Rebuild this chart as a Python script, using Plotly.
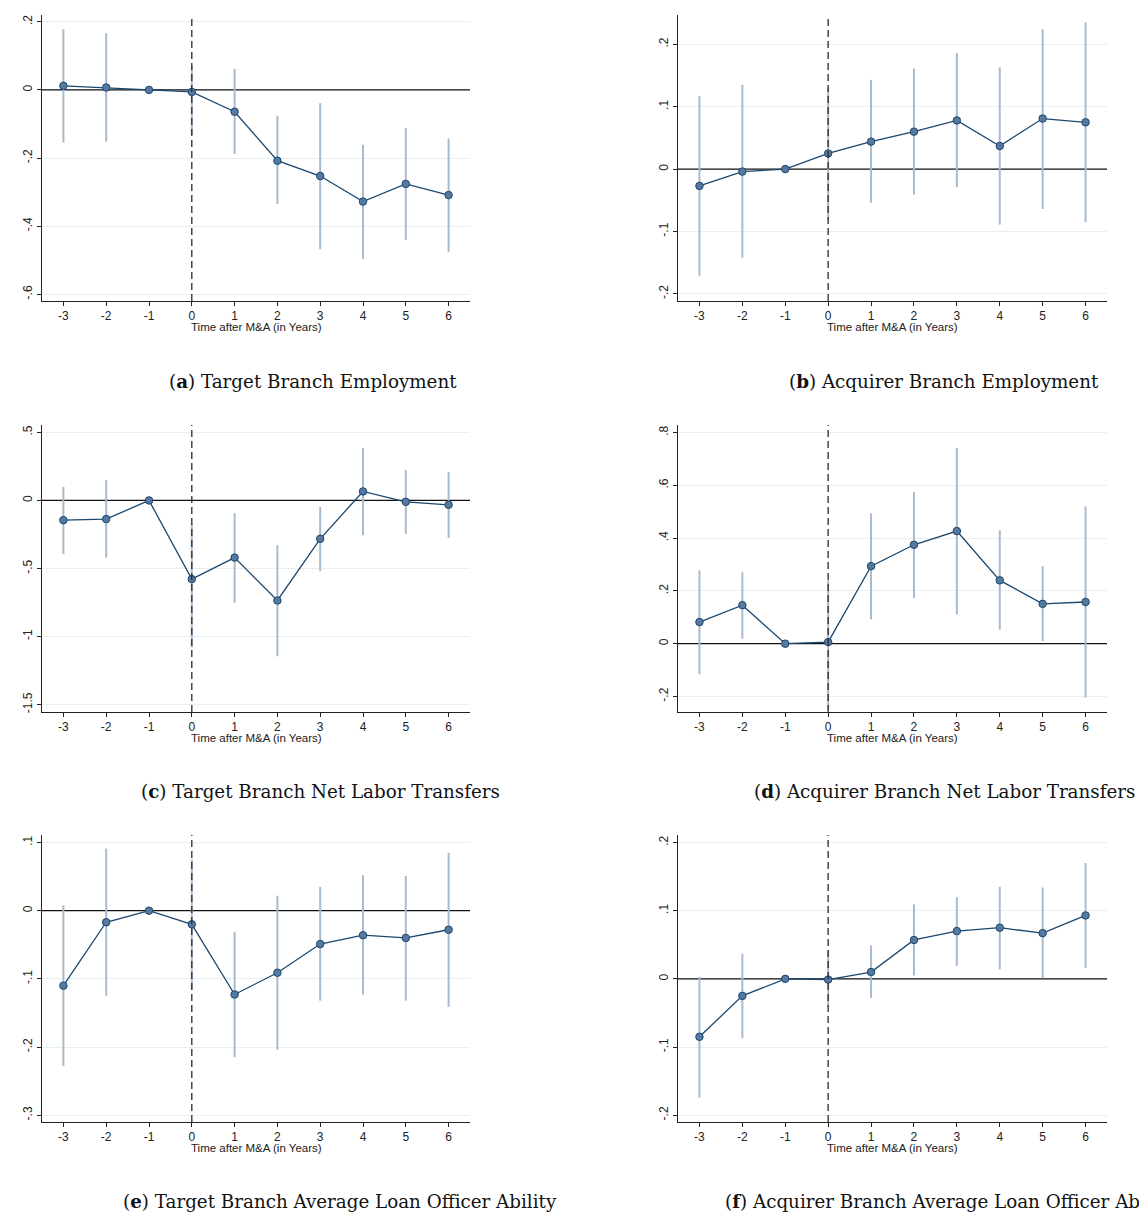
import plotly.graph_objects as go

# The page body adds an 8px margin; the figure is sized/positioned to compensate.
OFF = 8
W, H = 1147 - OFF, 1218 - OFF

years = [-3, -2, -1, 0, 1, 2, 3, 4, 5, 6]
x_ticklabels = [str(v) for v in years]
x_title = "Time after M&A (in Years)"

# (a) Target Branch Employment
a_coef = [0.012, 0.007, 0.0, -0.006, -0.064, -0.208, -0.253, -0.328, -0.276, -0.309]
a_lo = [-0.155, -0.152, None, -0.132, -0.188, -0.335, -0.468, -0.497, -0.441, -0.476]
a_hi = [0.178, 0.167, None, 0.069, 0.062, -0.076, -0.039, -0.161, -0.112, -0.143]
a_yticks = [-0.6, -0.4, -0.2, 0, 0.2]
a_yticklabels = ["-.6", "-.4", "-.2", "0", ".2"]
a_caption = "(<b>a</b>) Target Branch Employment"

# (b) Acquirer Branch Employment
b_coef = [-0.027, -0.004, 0.0, 0.025, 0.044, 0.060, 0.078, 0.037, 0.081, 0.075]
b_lo = [-0.171, -0.142, None, -0.082, -0.054, -0.041, -0.029, -0.089, -0.064, -0.085]
b_hi = [0.117, 0.135, None, 0.129, 0.143, 0.161, 0.186, 0.163, 0.224, 0.235]
b_yticks = [-0.2, -0.1, 0, 0.1, 0.2]
b_yticklabels = ["-.2", "-.1", "0", ".1", ".2"]
b_caption = "(<b>b</b>) Acquirer Branch Employment"

# (c) Target Branch Net Labor Transfers
c_coef = [-0.145, -0.137, 0.0, -0.578, -0.420, -0.735, -0.282, 0.066, -0.010, -0.032]
c_lo = [-0.395, -0.420, None, -1.08, -0.752, -1.145, -0.520, -0.255, -0.245, -0.275]
c_hi = [0.100, 0.150, None, -0.17, -0.093, -0.328, -0.047, 0.385, 0.223, 0.208]
c_yticks = [-1.5, -1, -0.5, 0, 0.5]
c_yticklabels = ["-1.5", "-1", "-.5", "0", ".5"]
c_caption = "(<b>c</b>) Target Branch Net Labor Transfers"

# (d) Acquirer Branch Net Labor Transfers
d_coef = [0.082, 0.146, 0.0, 0.006, 0.294, 0.375, 0.427, 0.240, 0.151, 0.158]
d_lo = [-0.116, 0.019, None, -0.25, 0.092, 0.173, 0.111, 0.053, 0.010, -0.204]
d_hi = [0.278, 0.271, None, 0.24, 0.494, 0.575, 0.742, 0.430, 0.294, 0.520]
d_yticks = [-0.2, 0, 0.2, 0.4, 0.6, 0.8]
d_yticklabels = ["-.2", "0", ".2", ".4", ".6", ".8"]
d_caption = "(<b>d</b>) Acquirer Branch Net Labor Transfers"

# (e) Target Branch Average Loan Officer Ability
e_coef = [-0.110, -0.017, 0.0, -0.020, -0.123, -0.091, -0.049, -0.036, -0.040, -0.028]
e_lo = [-0.228, -0.125, None, -0.115, -0.215, -0.204, -0.132, -0.123, -0.132, -0.141]
e_hi = [0.008, 0.091, None, 0.075, -0.031, 0.022, 0.035, 0.052, 0.051, 0.085]
e_yticks = [-0.3, -0.2, -0.1, 0, 0.1]
e_yticklabels = ["-.3", "-.2", "-.1", "0", ".1"]
e_caption = "(<b>e</b>) Target Branch Average Loan Officer Ability"

# (f) Acquirer Branch Average Loan Officer Ability
f_coef = [-0.085, -0.025, 0.0, -0.001, 0.010, 0.057, 0.070, 0.075, 0.067, 0.093]
f_lo = [-0.174, -0.087, None, -0.041, -0.028, 0.005, 0.019, 0.014, 0.001, 0.016]
f_hi = [0.003, 0.037, None, 0.042, 0.049, 0.109, 0.120, 0.135, 0.134, 0.170]
f_yticks = [-0.2, -0.1, 0, 0.1, 0.2]
f_yticklabels = ["-.2", "-.1", "0", ".1", ".2"]
f_caption = "(<b>f</b>) Acquirer Branch Average Loan Officer Ability"

panels = [
    dict(coef=a_coef, lo=a_lo, hi=a_hi, yt=a_yticks, ytl=a_yticklabels, yr=[-0.62, 0.22],
         cap=a_caption, col=0, row=0, capx=313),
    dict(coef=b_coef, lo=b_lo, hi=b_hi, yt=b_yticks, ytl=b_yticklabels, yr=[-0.2115, 0.247],
         cap=b_caption, col=1, row=0, capx=944),
    dict(coef=c_coef, lo=c_lo, hi=c_hi, yt=c_yticks, ytl=c_yticklabels, yr=[-1.554, 0.554],
         cap=c_caption, col=0, row=1, capx=320),
    dict(coef=d_coef, lo=d_lo, hi=d_hi, yt=d_yticks, ytl=d_yticklabels, yr=[-0.259, 0.829],
         cap=d_caption, col=1, row=1, capx=944),
    dict(coef=e_coef, lo=e_lo, hi=e_hi, yt=e_yticks, ytl=e_yticklabels, yr=[-0.310, 0.111],
         cap=e_caption, col=0, row=2, capx=340),
    dict(coef=f_coef, lo=f_lo, hi=f_hi, yt=f_yticks, ytl=f_yticklabels, yr=[-0.210, 0.211],
         cap=f_caption, col=1, row=2, capx=950),
]

# layout geometry (window pixels)
col_x = [(42, 470), (678, 1107)]
row_y = [(15, 301), (425, 712), (835, 1122)]
title_y = [327, 738, 1148]
cap_y = [381, 791, 1201]


def px(v):
    return (v - OFF) / W


def py(v):
    return 1 - (v - OFF) / H


NAVY = "#1a476f"
MARK = "#56799f"
CI = "#a8bacd"
GRID = "#e7eff1"
AXC = "#222222"
TICKFONT = dict(family="Liberation Sans, Arial, sans-serif", size=12, color="#222")

fig = go.Figure()
layout = dict(width=W, height=H, margin=dict(l=0, r=0, t=0, b=0),
              paper_bgcolor="white", plot_bgcolor="white", showlegend=False)
shapes, annotations = [], []

for i, p in enumerate(panels, start=1):
    sfx = "" if i == 1 else str(i)
    xa, ya = "x" + sfx, "y" + sfx
    x0, x1 = col_x[p["col"]]
    y0, y1 = row_y[p["row"]]

    # horizontal zero reference line (drawn first, beneath the data)
    fig.add_trace(go.Scatter(x=[-3.5, 6.5], y=[0, 0], mode="lines",
                             line=dict(color="#111", width=1.2),
                             xaxis=xa, yaxis=ya, hoverinfo="skip"))
    # confidence intervals
    cx, cy = [], []
    for xv, lo, hi in zip(years, p["lo"], p["hi"]):
        if lo is None:
            continue
        cx += [xv, xv, None]
        cy += [lo, hi, None]
    fig.add_trace(go.Scatter(x=cx, y=cy, mode="lines", line=dict(color=CI, width=2),
                             xaxis=xa, yaxis=ya, hoverinfo="skip"))
    # point estimates
    fig.add_trace(go.Scatter(x=years, y=p["coef"], mode="lines+markers",
                             line=dict(color=NAVY, width=1.3),
                             marker=dict(size=7.5, color=MARK, line=dict(color=NAVY, width=1)),
                             xaxis=xa, yaxis=ya))

    layout["xaxis" + sfx] = dict(
        domain=[px(x0), px(x1)], anchor=ya, range=[-3.5, 6.5],
        tickvals=years, ticktext=x_ticklabels, ticks="outside", ticklen=4,
        tickcolor=AXC, showline=True, linecolor=AXC, linewidth=1,
        showgrid=False, zeroline=False, tickfont=TICKFONT, fixedrange=True)
    layout["yaxis" + sfx] = dict(
        domain=[py(y1), py(y0)], anchor=xa, range=p["yr"],
        tickvals=p["yt"], ticktext=p["ytl"], tickangle=-90, ticks="outside", ticklen=4,
        tickcolor=AXC, showline=True, linecolor=AXC, linewidth=1,
        showgrid=True, gridcolor=GRID, gridwidth=1, zeroline=False,
        tickfont=TICKFONT, fixedrange=True)

    # event line at t = 0 (dashed, spans the plot height)
    shapes.append(dict(type="line", xref=xa, x0=0, x1=0, yref="paper",
                       y0=py(y1), y1=py(y0),
                       line=dict(color="#2a2a2a", width=1.3, dash="7px,4px"), layer="above"))

    annotations.append(dict(text=x_title, xref="paper", yref="paper",
                            x=px((x0 + x1) / 2), y=py(title_y[p["row"]]),
                            xanchor="center", yanchor="middle", showarrow=False,
                            font=dict(family="Liberation Sans, Arial, sans-serif", size=11.5,
                                      color="#222")))
    annotations.append(dict(text=p["cap"], xref="paper", yref="paper",
                            x=px(p["capx"]), y=py(cap_y[p["row"]]),
                            xanchor="center", yanchor="middle", showarrow=False,
                            font=dict(family="DejaVu Serif, serif", size=18.3, color="#111")))

layout["shapes"] = shapes
layout["annotations"] = annotations
fig.update_layout(**layout)
fig.write_html("out.html")
